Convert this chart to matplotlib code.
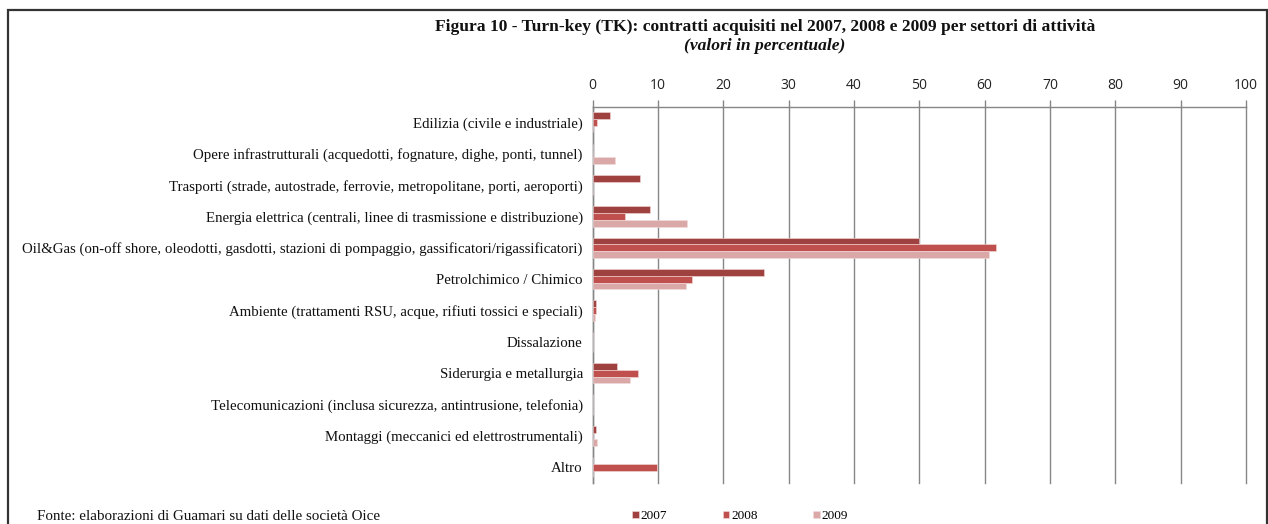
import matplotlib
matplotlib.use("Agg")
import matplotlib.pyplot as plt
from matplotlib.patches import Rectangle
import numpy as np

categories = [
    "Edilizia (civile e industriale)",
    "Opere infrastrutturali (acquedotti, fognature, dighe, ponti, tunnel)",
    "Trasporti (strade, autostrade, ferrovie, metropolitane, porti, aeroporti)",
    "Energia elettrica (centrali, linee di trasmissione e distribuzione)",
    "Oil&Gas (on-off shore, oleodotti, gasdotti, stazioni di pompaggio, gassificatori/rigassificatori)",
    "Petrolchimico / Chimico",
    "Ambiente (trattamenti RSU, acque, rifiuti tossici e speciali)",
    "Dissalazione",
    "Siderurgia e metallurgia",
    "Telecomunicazioni (inclusa sicurezza, antintrusione, telefonia)",
    "Montaggi (meccanici ed elettrostrumentali)",
    "Altro",
]
years = ["2007", "2008", "2009"]
v2007 = [2.7, 0.0, 7.2, 8.8, 50.0, 26.3, 0.5, 0.0, 3.8, 0.0, 0.6, 0.0]
v2008 = [0.7, 0.0, 0.0, 5.0, 61.7, 15.3, 0.5, 0.0, 6.9, 0.0, 0.0, 9.8]
v2009 = [0.1, 3.4, 0.0, 14.4, 60.7, 14.3, 0.4, 0.0, 5.7, 0.0, 0.7, 0.0]
xticks = list(range(0, 101, 10))

colors = ["#9E413F", "#C0504D", "#D9A8A7"]
series = [v2007, v2008, v2009]

W, H = 1268, 524
fig = plt.figure(figsize=(W / 100, H / 100), dpi=100)
fig.patch.set_facecolor("white")

# outer frame
fig.add_artist(Rectangle((7.5 / W, -0.05), (1266.5 - 7.5) / W, 1.05 - 10 / H,
                         transform=fig.transFigure, fill=False,
                         edgecolor="#333333", linewidth=1.6))

ax_left, ax_right = 592.5, 1246.0
ax_top, ax_bottom = 106.7, 483.0
ax = fig.add_axes([ax_left / W, 1 - ax_bottom / H,
                   (ax_right - ax_left) / W, (ax_bottom - ax_top) / H])

n = len(categories)
y = np.arange(n)
bh = 0.215
for i, (vals, c, lab) in enumerate(zip(series, colors, years)):
    ax.barh(y + (i - 1) * bh, vals, height=bh, color=c, edgecolor="#F2DCDB",
            linewidth=0.4, label=lab, zorder=3)

ax.set_xlim(0, 100)
ax.set_ylim(n - 0.5, -0.5)
ax.set_xticks(xticks)
ax.xaxis.tick_top()
ax.tick_params(axis="x", length=5, color="#868686", width=1, pad=5,
               labelsize=10, labelcolor="#222222")
for t in ax.get_xticklabels():
    t.set_fontfamily("Open Sans")
ax.grid(axis="x", color="#868686", linewidth=1, zorder=0)
for gl in ax.get_xgridlines():
    gl.set_clip_on(False)
ax.set_axisbelow(True)

ax.set_yticks(y)
ax.set_yticklabels(categories, fontfamily="Liberation Serif", fontsize=10.7,
                   color="#111111")
ax.tick_params(axis="y", length=0, pad=7)

for s in ["right", "bottom"]:
    ax.spines[s].set_visible(False)
ax.spines["top"].set_color("#868686")
ax.spines["left"].set_color("#868686")
ax.spines["top"].set_linewidth(1)
ax.spines["left"].set_linewidth(1)

fig.text(765 / W, 1 - 27 / H,
         "Figura 10 - Turn-key (TK): contratti acquisiti nel 2007, 2008 e 2009 per settori di attività",
         ha="center", va="center", fontfamily="Liberation Serif",
         fontweight="bold", fontsize=12.6, color="#111111")
fig.text(765 / W, 1 - 46 / H, "(valori in percentuale)",
         ha="center", va="center", fontfamily="Liberation Serif",
         fontweight="bold", fontstyle="italic", fontsize=12.6, color="#111111")

fig.text(37 / W, 1 - 516 / H, "Fonte: elaborazioni di Guamari su dati delle società Oice",
         ha="left", va="center", fontfamily="Liberation Serif", fontsize=10.8,
         color="#111111")

leg = fig.legend(loc="center", bbox_to_anchor=(740 / W, 1 - 516 / H),
                 ncol=3, frameon=False, handlelength=0.5, handleheight=0.5,
                 handletextpad=0.15, columnspacing=4.2,
                 prop={"family": "Liberation Serif", "size": 9.5})

fig.savefig("out.png", dpi=100, facecolor="white")
